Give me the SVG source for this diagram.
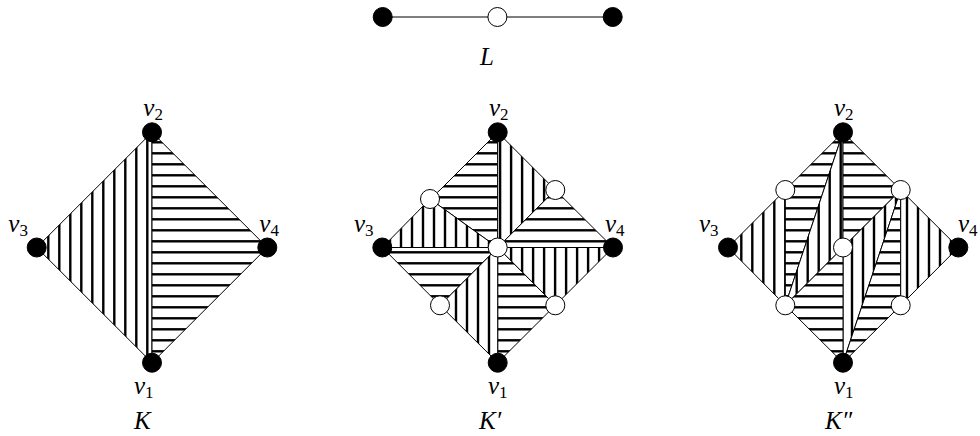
<svg xmlns="http://www.w3.org/2000/svg" xmlns:xlink="http://www.w3.org/1999/xlink" width="980" height="436" viewBox="0 0 980 436">
<style>
.b{fill:#000;stroke:#000;stroke-width:1}
.w{fill:#fff;stroke:#000;stroke-width:1}
.e{stroke:#000;stroke-width:1;stroke-linejoin:round}
.l{stroke:#000;stroke-width:1;fill:none}
text{font-family:"Liberation Serif","Times New Roman",serif;font-style:italic;font-size:25px;fill:#000}
.s{font-size:17px;font-style:normal}
</style>
<defs>
<pattern id="h" patternUnits="userSpaceOnUse" x="0" y="148" width="11" height="11"><rect width="11" height="11" fill="#fff"/><rect y="4.1" width="11" height="2.4" fill="#000"/></pattern>
<pattern id="va" patternUnits="userSpaceOnUse" x="43" y="0" width="11" height="11"><rect width="11" height="11" fill="#fff"/><rect x="4.1" width="2.4" height="11" fill="#000"/></pattern>
<pattern id="vb" patternUnits="userSpaceOnUse" x="395" y="0" width="11" height="11"><rect width="11" height="11" fill="#fff"/><rect x="4.8" width="2.4" height="11" fill="#000"/></pattern>
<pattern id="vc" patternUnits="userSpaceOnUse" x="495" y="0" width="11" height="11"><rect width="11" height="11" fill="#fff"/><rect x="3.9" width="2.4" height="11" fill="#000"/></pattern>
<pattern id="vd" patternUnits="userSpaceOnUse" x="736" y="0" width="11" height="11"><rect width="11" height="11" fill="#fff"/><rect x="4.1" width="2.4" height="11" fill="#000"/></pattern>
<pattern id="ve" patternUnits="userSpaceOnUse" x="792" y="0" width="11" height="11"><rect width="11" height="11" fill="#fff"/><rect x="3.5" width="2.4" height="11" fill="#000"/></pattern>
<pattern id="vf" patternUnits="userSpaceOnUse" x="847" y="0" width="11" height="11"><rect width="11" height="11" fill="#fff"/><rect x="3.8" width="2.4" height="11" fill="#000"/></pattern>
</defs>
<rect width="980" height="436" fill="#fff"/>

<g id="connectors">
<!-- L -->
<line class="l" x1="382.7" y1="17" x2="612.7" y2="17"/>
<!-- K -->
<polygon class="e" fill="url(#va)" points="152,132.3 36.7,247.5 152,362.7"/>
<polygon class="e" fill="url(#h)" points="152,132.3 267.3,247.5 152,362.7"/>
<!-- K' -->
<polygon class="e" fill="url(#h)" points="497.7,132.3 440.1,189.9 430,199 497.7,247.5"/>
<polygon class="e" fill="url(#vc)" points="497.7,132.3 555.3,190 497.7,247.5"/>
<polygon class="e" fill="url(#h)" points="555.3,190 613,247.5 497.7,247.5"/>
<polygon class="e" fill="url(#vc)" points="613,247.5 555.3,305.3 497.7,247.5"/>
<polygon class="e" fill="url(#h)" points="497.7,247.5 555.3,305.3 497.7,362.7"/>
<polygon class="e" fill="url(#vb)" points="497.7,247.5 440,305.3 497.7,362.7"/>
<polygon class="e" fill="url(#h)" points="497.7,247.5 440,305.3 382.3,247.5"/>
<polygon class="e" fill="url(#vb)" points="382.3,247.5 430,199 497.7,247.5"/>
<!-- K'' -->
<polygon class="e" fill="url(#vd)" points="728,247.5 785.3,190 785.3,305.3"/>
<polygon class="e" fill="url(#h)" points="785.3,190 843,132.3 785.3,305.3"/>
<polygon class="e" fill="url(#ve)" points="843,132.3 843,247.5 785.3,305.3"/>
<polygon class="e" fill="url(#h)" points="843,132.3 900.7,190 843,247.5"/>
<polygon class="e" fill="url(#vf)" points="900.7,190 843,247.5 843,362.7"/>
<polygon class="e" fill="url(#h)" points="900.7,190 900.7,305.3 843,362.7"/>
<polygon class="e" fill="url(#vf)" points="900.7,190 958.3,247.5 900.7,305.3"/>
<polygon class="e" fill="url(#h)" points="785.3,305.3 843,247.5 843,362.7"/>
</g>

<g id="L-a"><circle class="b" cx="382.7" cy="17" r="9.5"/></g>
<g id="L-b"><circle class="w" cx="497.4" cy="17" r="9.5"/></g>
<g id="L-c"><circle class="b" cx="612.7" cy="17" r="9.5"/></g>
<text id="L-label" x="480" y="65">L</text>

<g id="K-v1"><circle class="b" cx="152" cy="362.7" r="9.5"/><text x="134" y="394">v<tspan class="s" dy="4">1</tspan></text></g>
<g id="K-v2"><circle class="b" cx="152" cy="132.3" r="9.5"/><text x="143.3" y="116">v<tspan class="s" dy="4">2</tspan></text></g>
<g id="K-v3"><circle class="b" cx="36.7" cy="247.5" r="9.5"/><text x="8.3" y="232">v<tspan class="s" dy="4">3</tspan></text></g>
<g id="K-v4"><circle class="b" cx="267.3" cy="247.5" r="9.5"/><text x="259.3" y="232">v<tspan class="s" dy="4">4</tspan></text></g>
<text id="K-label" x="134" y="429">K</text>

<g id="Kp-v1"><circle class="b" cx="497.7" cy="362.7" r="9.5"/><text x="488" y="394">v<tspan class="s" dy="4">1</tspan></text></g>
<g id="Kp-v2"><circle class="b" cx="497.7" cy="132.3" r="9.5"/><text x="489" y="116">v<tspan class="s" dy="4">2</tspan></text></g>
<g id="Kp-v3"><circle class="b" cx="382.3" cy="247.5" r="9.5"/><text x="354" y="232">v<tspan class="s" dy="4">3</tspan></text></g>
<g id="Kp-v4"><circle class="b" cx="613" cy="247.5" r="9.5"/><text x="605" y="232">v<tspan class="s" dy="4">4</tspan></text></g>
<g id="Kp-a"><circle class="w" cx="430" cy="199" r="9.5"/></g>
<g id="Kp-b"><circle class="w" cx="555.3" cy="190" r="9.5"/></g>
<g id="Kp-c"><circle class="w" cx="440" cy="305.3" r="9.5"/></g>
<g id="Kp-d"><circle class="w" cx="555.3" cy="305.3" r="9.5"/></g>
<g id="Kp-e"><circle class="w" cx="497.7" cy="247.5" r="9.5"/></g>
<text id="Kp-label" x="479" y="429">K′</text>

<g id="Kpp-v1"><circle class="b" cx="843" cy="362.7" r="9.5"/><text x="834" y="394">v<tspan class="s" dy="4">1</tspan></text></g>
<g id="Kpp-v2"><circle class="b" cx="843" cy="132.3" r="9.5"/><text x="834" y="116">v<tspan class="s" dy="4">2</tspan></text></g>
<g id="Kpp-v3"><circle class="b" cx="728" cy="247.5" r="9.5"/><text x="699" y="232">v<tspan class="s" dy="4">3</tspan></text></g>
<g id="Kpp-v4"><circle class="b" cx="958.3" cy="247.5" r="9.5"/><text x="958" y="232">v<tspan class="s" dy="4">4</tspan></text></g>
<g id="Kpp-a"><circle class="w" cx="785.3" cy="190" r="9.5"/></g>
<g id="Kpp-b"><circle class="w" cx="900.7" cy="190" r="9.5"/></g>
<g id="Kpp-c"><circle class="w" cx="785.3" cy="305.3" r="9.5"/></g>
<g id="Kpp-d"><circle class="w" cx="900.7" cy="305.3" r="9.5"/></g>
<g id="Kpp-e"><circle class="w" cx="843" cy="247.5" r="9.5"/></g>
<text id="Kpp-label" x="825" y="429">K″</text>
</svg>
